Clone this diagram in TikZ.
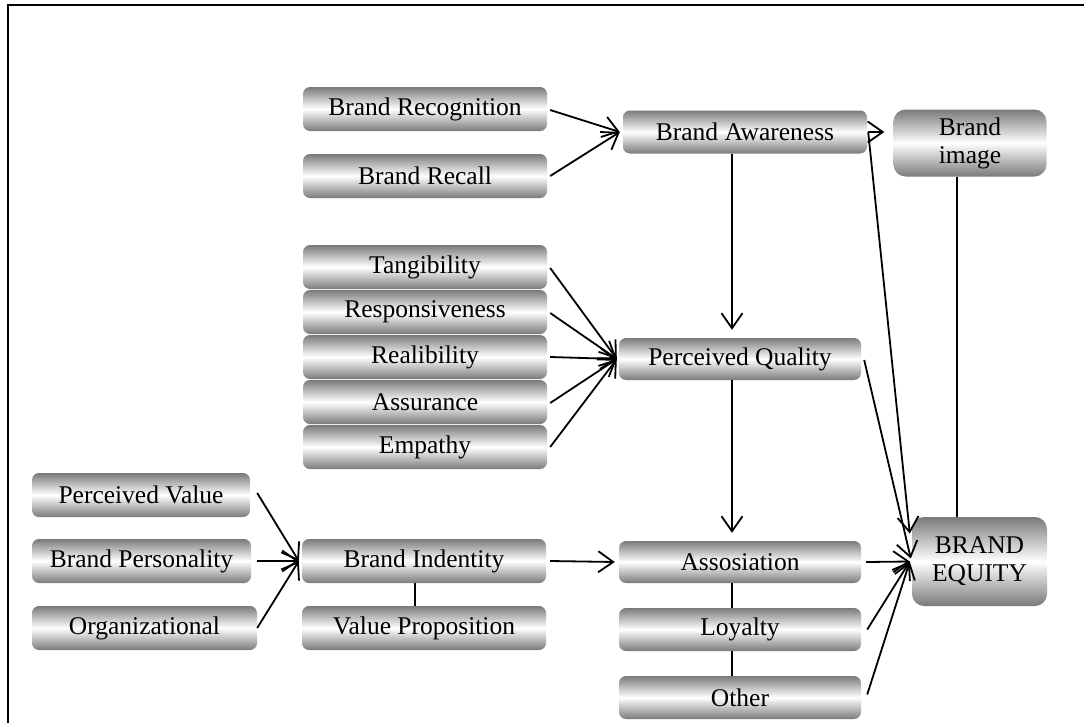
\documentclass[tikz,border=0pt]{standalone}
\usepackage{fontspec}
\setmainfont{Liberation Serif}
\usetikzlibrary{arrows.meta}
\begin{document}
\begin{tikzpicture}[x=1pt,y=-1pt,
  box/.style={rounded corners=7pt, top color=black!52, bottom color=black!52,
    middle color=white, inner sep=0pt, minimum height=44pt,
    font=\fontsize{25.5}{28}\selectfont, align=center},
  bigbox/.style={box, rounded corners=12pt},
  arr/.style={line width=1.8pt, -{Straight Barb[length=15pt,width=21pt,line width=1.8pt]}},
  link/.style={line width=1.8pt}]
\useasboundingbox (0,0) rectangle (1084,723);
\fill[white] (0,0) rectangle (1084,723);
% page frame
\coordinate (ftop) at (1084,5);
\coordinate (fcorner) at (8,5);
\coordinate (fbot) at (8,723);
\draw[line width=2.2pt] (ftop) -- (fcorner) -- (fbot);

% awareness group
\node[box, minimum width=244pt] (rec) at (425,109) {Brand Recognition};
\node[box, minimum width=244pt] (rcl) at (425,176) {Brand Recall};
\node[box, minimum width=244pt, minimum height=43pt] (aw) at (745,132) {Brand Awareness};
\node[bigbox, minimum width=153pt, minimum height=67pt] (img) at (970,143) {Brand\\image};

% quality group
\node[box, minimum width=244pt] (tan) at (425,267) {Tangibility};
\node[box, minimum width=244pt] (rsp) at (425,312) {Responsiveness};
\node[box, minimum width=244pt] (rel) at (425,357) {Realibility};
\node[box, minimum width=244pt] (asu) at (425,402) {Assurance};
\node[box, minimum width=244pt] (emp) at (425,447) {Empathy};
\node[box, minimum width=242pt, minimum height=42pt] (pq) at (740,359) {Perceived Quality};

% identity group
\node[box, minimum width=218pt] (pv) at (141,495) {Perceived Value};
\node[box, minimum width=219pt] (bp) at (141.5,561) {Brand Personality};
\node[box, minimum width=225pt] (org) at (144.5,628) {Organizational};
\node[box, minimum width=244pt] (bi) at (424,561) {Brand Indentity};
\node[box, minimum width=244pt] (vp) at (424,628) {Value Proposition};

% association group
\node[box, minimum width=242pt, minimum height=42pt] (as) at (740,562) {Assosiation};
\node[box, minimum width=242pt, minimum height=43pt] (loy) at (740,629.5) {Loyalty};
\node[box, minimum width=242pt, minimum height=43pt] (oth) at (740,697.5) {Other};
\node[bigbox, minimum width=135pt, minimum height=89pt] (eq) at (979.5,561.5) {BRAND\\EQUITY};

% connectors into Brand Awareness
\coordinate (awin) at ([xshift=-3pt]aw.west);
\draw[arr] ([xshift=3pt,yshift=-1pt]rec.east) -- (awin);
\draw[arr] ([xshift=3pt]rcl.east) -- (awin);

% Brand Awareness outputs
\coordinate (imgin) at ([xshift=-9pt]img.west |- aw.east);
\draw[arr] ([xshift=1pt]aw.east) -- (imgin);
\coordinate (eqtop) at ([xshift=-2pt,yshift=28pt]eq.west);
\draw[arr] ([xshift=1pt]aw.east) -- (eqtop);
\draw[arr] ([xshift=-13pt]aw.south) -- ([xshift=-8pt,yshift=8pt]pq.north);

% dimensions of quality
\coordinate (pqin) at ([xshift=-2pt]pq.west);
\draw[arr] ([xshift=3pt,yshift=-1pt]tan.east) -- (pqin);
\draw[arr] ([xshift=3pt,yshift=-1pt]rsp.east) -- (pqin);
\draw[arr] ([xshift=3pt]rel.east) -- (pqin);
\draw[arr] ([xshift=3pt,yshift=-1pt]asu.east) -- (pqin);
\draw[arr] ([xshift=3pt]emp.east) -- (pqin);

% Perceived Quality outputs
\coordinate (eqmid) at ([xshift=-1pt,yshift=3pt]eq.west);
\draw[arr] ([xshift=3pt,yshift=-1pt]pq.east) -- (eqmid);
\draw[arr] ([xshift=-8pt]pq.south) -- ([xshift=-8pt,yshift=8pt]as.north);

% brand identity inputs
\coordinate (biin) at ([xshift=-3pt]bi.west);
\draw[arr] ([xshift=7pt,yshift=2pt]pv.east) -- (biin);
\draw[arr] ([xshift=6pt]bp.east) -- (biin);
\draw[arr] ([xshift=0pt]org.east) -- (biin);
\draw[link] ([xshift=-9pt]bi.south) -- ([xshift=-9pt]vp.north);
\draw[arr] ([xshift=4pt]bi.east) -- ([xshift=-4pt]as.west);

% association chain
\draw[link] ([xshift=-8pt]as.south) -- ([xshift=-8pt]loy.north);
\draw[link] ([xshift=-8pt]loy.south) -- ([xshift=-8pt]oth.north);
\coordinate (eqin) at ([xshift=-2pt]eq.west);
\draw[arr] ([xshift=5pt]as.east) -- (eqin);
\draw[arr] ([xshift=6pt]loy.east) -- (eqin);
\draw[arr] ([xshift=6pt,yshift=3pt]oth.east) -- (eqin);

% brand image to equity
\draw[link] ([xshift=-13pt]img.south) -- ([xshift=-13pt]img.south |- eq.north);
\end{tikzpicture}
\end{document}
